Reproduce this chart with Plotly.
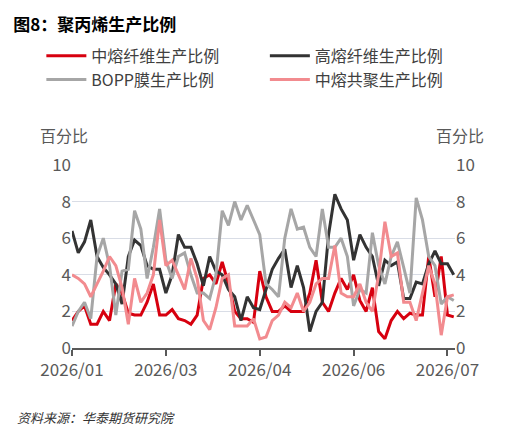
import plotly.graph_objects as go

tick_labels = ["2026/01", "2026/03", "2026/04", "2026/06", "2026/07"]
tick_idx = [0, 15, 30, 45, 60]

mid_fiber = [1.5,2.0,2.3,1.3,1.3,2.0,1.5,3.5,3.0,1.9,1.8,1.8,2.5,3.5,1.8,1.8,2.1,1.6,1.5,1.3,1.8,3.8,4.0,3.5,4.7,3.5,2.0,1.6,1.6,1.4,4.2,2.8,
             2.0,2.0,2.3,2.0,2.0,2.0,3.0,4.8,2.5,2.0,3.0,3.8,3.2,4.0,2.6,2.0,3.3,0.9,0.5,1.5,2.0,1.6,1.9,1.8,1.8,5.0,2.8,5.0,1.8,1.7]
high_fiber = [6.4,5.2,5.8,7.0,5.0,4.4,4.0,3.5,2.4,5.0,5.9,5.6,4.5,4.3,4.3,3.0,4.0,6.2,5.5,5.5,4.6,3.4,5.0,4.2,4.0,3.2,2.8,1.5,2.8,2.2,2.1,3.2,
              4.3,4.9,5.4,3.3,4.5,3.3,0.9,2.0,2.5,6.2,8.4,7.6,7.0,4.8,6.2,5.5,5.0,3.4,4.8,4.5,4.7,2.7,2.7,3.6,3.5,4.6,5.3,4.6,4.6,4.0]
bopp = [1.2,2.0,2.5,1.6,5.0,6.0,4.5,1.8,4.2,4.3,7.5,6.5,3.8,5.5,7.6,4.8,3.8,5.0,5.2,4.0,3.0,3.0,2.7,4.0,7.5,6.7,8.0,7.0,7.8,7.0,6.2,3.5,
        3.2,2.8,6.0,7.6,6.5,6.6,5.5,5.0,7.6,5.5,5.5,6.0,5.0,2.3,3.2,3.0,6.3,4.5,3.5,5.0,5.8,4.4,3.0,8.2,7.0,5.0,4.5,2.4,2.8,2.6]
mid_copoly = [4.0,3.8,3.5,2.8,3.5,4.2,5.0,4.5,3.3,1.3,3.8,2.5,3.0,4.0,7.0,4.5,4.8,4.0,3.2,4.9,3.8,1.5,1.0,2.2,3.8,4.0,1.2,1.2,1.2,1.6,0.5,0.6,
              1.5,1.8,2.5,2.2,3.0,2.0,2.5,3.5,3.8,3.8,5.6,3.0,2.8,2.8,3.5,2.5,2.0,4.0,6.9,5.0,5.2,2.5,2.5,1.5,3.0,4.5,3.5,0.7,2.8,2.9]

x = list(range(len(mid_fiber)))
series = [("中熔纤维生产比例", mid_fiber, "#d7000f"),
          ("高熔纤维生产比例", high_fiber, "#333333"),
          ("BOPP膜生产比例", bopp, "#a6a6a6"),
          ("中熔共聚生产比例", mid_copoly, "#f28b8f")]

fig = go.Figure()
for name, ys, c in series:
    fig.add_trace(go.Scatter(x=x, y=ys, name=name, mode="lines", line=dict(color=c, width=3)))
fig.add_trace(go.Scatter(x=x, y=high_fiber, yaxis="y2", showlegend=False, hoverinfo="skip",
                         mode="lines", line=dict(width=0), opacity=0))

font = "Noto Sans CJK SC"
fig.update_layout(
    width=519, height=426, plot_bgcolor="white", paper_bgcolor="white",
    font=dict(family=font, size=17, color="#595959"),
    margin=dict(l=64, r=72, t=157, b=86, autoexpand=False),
    title=dict(text="<b>图8：聚丙烯生产比例</b>", x=0.01, xanchor="left", y=0.975, yanchor="top",
               font=dict(size=17, color="black", family=font)),
    legend=dict(orientation="h", x=-0.08, xanchor="left", y=1.69, yanchor="top",
                entrywidth=0.5, entrywidthmode="fraction", font=dict(size=16, color="#404040"),
                itemwidth=40),
    xaxis=dict(range=[0, 61.2], tickvals=tick_idx, ticktext=tick_labels, showgrid=False,
               showline=True, linecolor="#595959", linewidth=2, ticks="outside", ticklen=6,
               tickcolor="#595959", tickwidth=2, zeroline=False),
    yaxis=dict(range=[0, 10], dtick=2, gridcolor="#d9dde6", zeroline=False, ticks=""),
    yaxis2=dict(range=[0, 10], dtick=2, overlaying="y", side="right", showgrid=False, zeroline=False),
    annotations=[
        dict(text="百分比", xref="paper", yref="paper", x=-0.09, y=1.09, xanchor="left", yanchor="bottom",
             showarrow=False, font=dict(size=16, color="#595959")),
        dict(text="百分比", xref="paper", yref="paper", x=1.08, y=1.09, xanchor="right", yanchor="bottom",
             showarrow=False, font=dict(size=16, color="#595959")),
        dict(text="<i>资料来源：华泰期货研究院</i>", xref="paper", yref="paper", x=-0.15, y=-0.38,
             xanchor="left", yanchor="middle", showarrow=False, font=dict(size=13, color="#333333")),
    ],
)
fig.write_html("out.html")
